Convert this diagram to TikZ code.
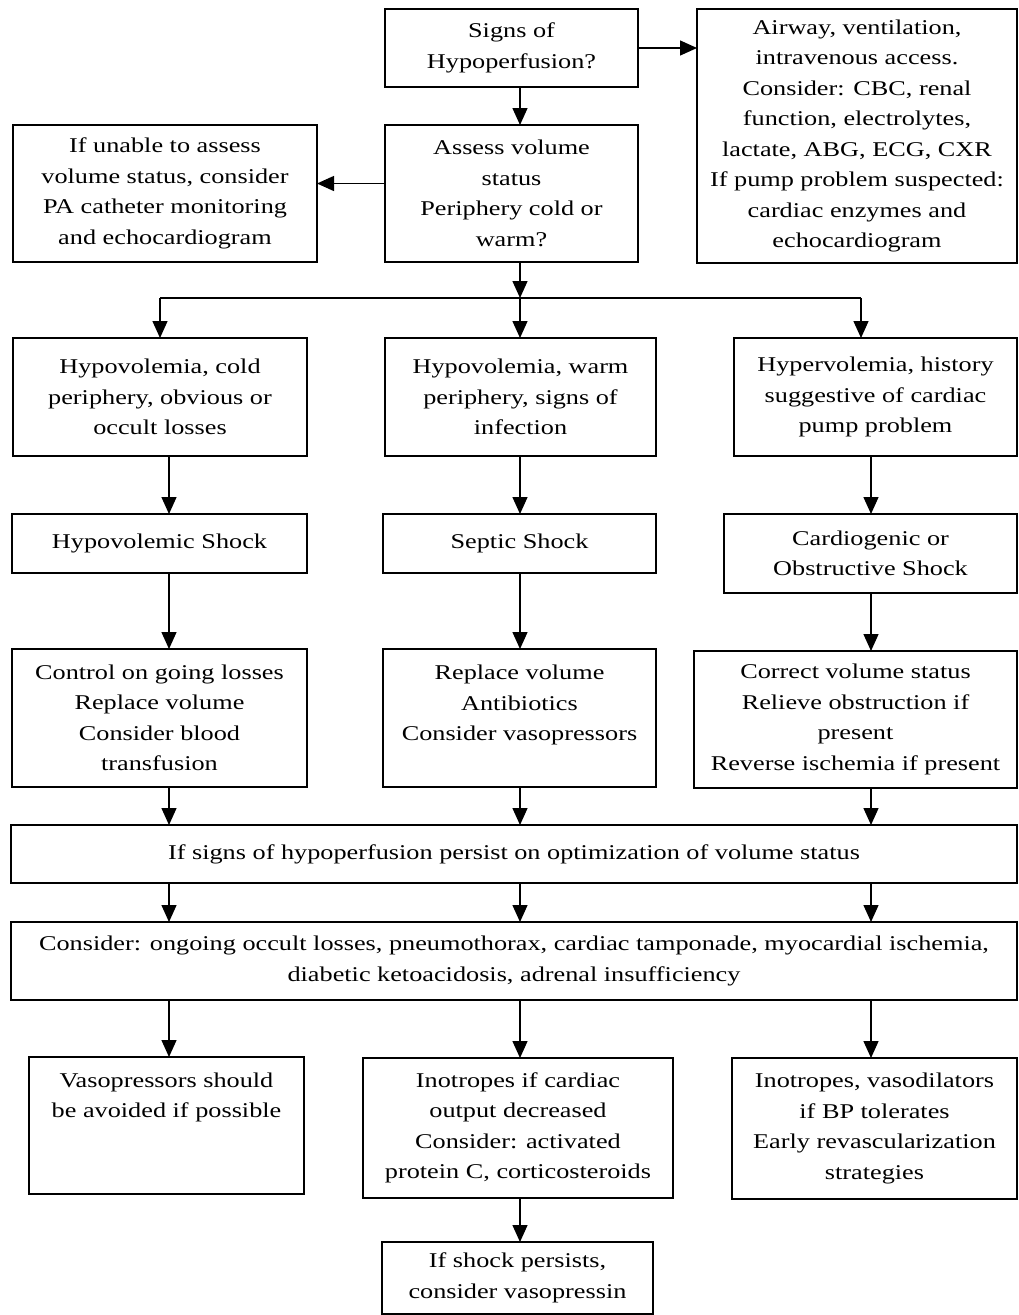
\documentclass[tikz,border=0pt]{standalone}
\usepackage{fontspec}
\setmainfont[FakeStretch=1.25]{Liberation Serif}
\usetikzlibrary{arrows.meta}
\newcommand\bx[6]{\node[box, minimum width={(#4-#2)*1pt}, minimum height={(#5-#3)*1pt}] (#1) at ({(#2+#4)/2},{(#3+#5)/2}) {#6};}
\begin{document}
\begin{tikzpicture}[x=1pt,y=-1pt,
  box/.style={draw, line width=2pt, inner sep=0pt, outer sep=0pt, align=center, font=\fontsize{21}{30.5}\selectfont},
  arr/.style={line width=1.4pt, -{Triangle[length=17pt,width=15pt]}},
  ln/.style={line width=1.4pt}]
\useasboundingbox (0,0) rectangle (1019,1315);
\fill[white] (0,0) rectangle (1019,1315);
\bx{signs}{385}{9}{638}{87}{Signs of\\Hypoperfusion?}
\bx{airway}{697}{9}{1017}{263}{Airway, ventilation,\\intravenous access.\\Consider: CBC, renal\\function, electrolytes,\\lactate, ABG, ECG, CXR\\If pump problem suspected:\\cardiac enzymes and\\echocardiogram}
\bx{assess}{385}{125}{638}{262}{Assess volume\\status\\Periphery cold or\\warm?}
\bx{unable}{13}{125}{317}{262}{If unable to assess\\volume status, consider\\PA catheter monitoring\\and echocardiogram}
\bx{hl}{13}{338}{307}{456}{Hypovolemia, cold\\periphery, obvious or\\occult losses}
\bx{hm}{385}{338}{656}{456}{Hypovolemia, warm\\periphery, signs of\\infection}
\bx{hr}{734}{338}{1017}{456}{Hypervolemia, history\\suggestive of cardiac\\pump problem}
\bx{sl}{12}{514}{307}{573}{Hypovolemic Shock}
\bx{sm}{383}{514}{656}{573}{Septic Shock}
\bx{sr}{724}{514}{1017}{593}{Cardiogenic or\\Obstructive Shock}
\bx{tl}{12}{649}{307}{787}{Control on going losses\\Replace volume\\Consider blood\\transfusion}
\bx{tm}{383}{649}{656}{787}{Replace volume\\Antibiotics\\Consider vasopressors\\\mbox{}}
\bx{tr}{694}{651}{1017}{788}{Correct volume status\\Relieve obstruction if\\present\\Reverse ischemia if present}
\bx{wa}{11}{825}{1017}{883}{If signs of hypoperfusion persist on optimization of volume status}
\bx{wb}{11}{922}{1017}{1000}{Consider: ongoing occult losses, pneumothorax, cardiac tamponade, myocardial ischemia,\\diabetic ketoacidosis, adrenal insufficiency}
\bx{bl}{29}{1057}{304}{1194}{Vasopressors should\\be avoided if possible\\\mbox{}\\\mbox{}}
\bx{bm}{363}{1058}{673}{1198}{Inotropes if cardiac\\output decreased\\Consider: activated\\protein C, corticosteroids}
\bx{br}{732}{1058}{1017}{1199}{Inotropes, vasodilators\\if BP tolerates\\Early revascularization\\strategies}
\bx{fin}{382}{1242}{653}{1314}{If shock persists,\\consider vasopressin}
\coordinate (cL) at (169,0);
\coordinate (cM) at (520,0);
\coordinate (cR) at (871,0);
\coordinate (cLa) at (160,0);
\coordinate (cRa) at (861,0);
\coordinate (jn) at (520,298);
\coordinate (ua) at ([yshift=10pt]assess.west);
\draw[arr] (signs.east) -- (signs.east -| airway.west);
\draw[arr] (signs.south -| cM) -- (assess.north -| cM);
\draw[arr] (ua) -- (ua -| unable.east);
\draw[arr] (assess.south -| cM) -- (jn);
\draw[ln] (jn -| cLa) -- (jn -| cRa);
\draw[arr] (jn -| cLa) -- (hl.north -| cLa);
\draw[arr] (jn) -- (hm.north -| cM);
\draw[arr] (jn -| cRa) -- (hr.north -| cRa);
\draw[arr] (hl.south -| cL) -- (sl.north -| cL);
\draw[arr] (hm.south -| cM) -- (sm.north -| cM);
\draw[arr] (hr.south -| cR) -- (sr.north -| cR);
\draw[arr] (sl.south -| cL) -- (tl.north -| cL);
\draw[arr] (sm.south -| cM) -- (tm.north -| cM);
\draw[arr] (sr.south -| cR) -- (tr.north -| cR);
\draw[arr] (tl.south -| cL) -- (wa.north -| cL);
\draw[arr] (tm.south -| cM) -- (wa.north -| cM);
\draw[arr] (tr.south -| cR) -- (wa.north -| cR);
\draw[arr] (wa.south -| cL) -- (wb.north -| cL);
\draw[arr] (wa.south -| cM) -- (wb.north -| cM);
\draw[arr] (wa.south -| cR) -- (wb.north -| cR);
\draw[arr] (wb.south -| cL) -- (bl.north -| cL);
\draw[arr] (wb.south -| cM) -- (bm.north -| cM);
\draw[arr] (wb.south -| cR) -- (br.north -| cR);
\draw[arr] (bm.south -| cM) -- (fin.north -| cM);
\end{tikzpicture}
\end{document}
